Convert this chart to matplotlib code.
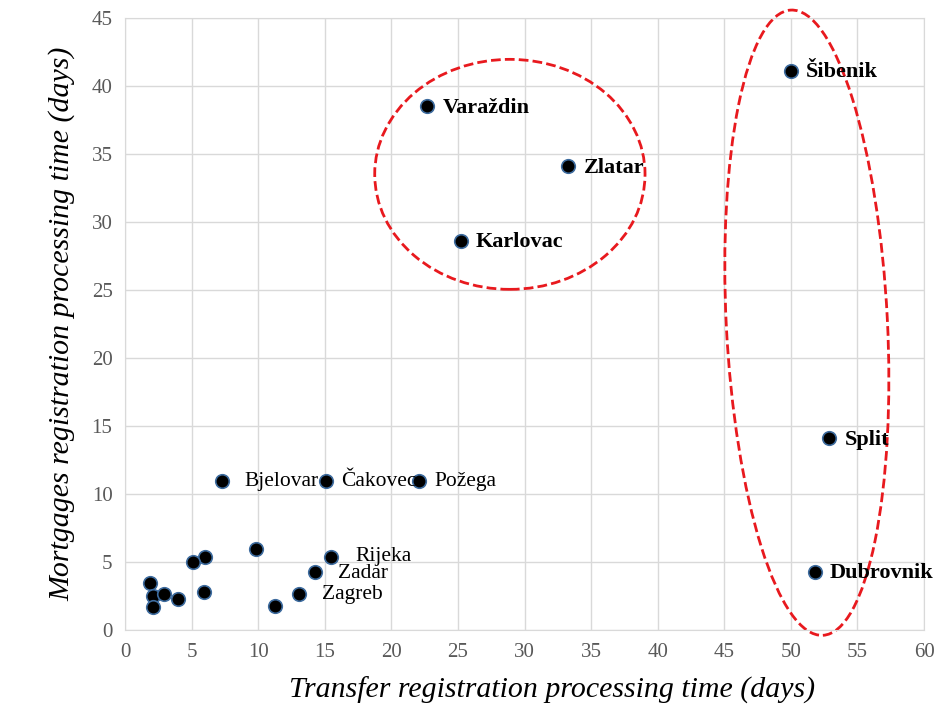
import numpy as np
import matplotlib
matplotlib.use("Agg")
import matplotlib.pyplot as plt
from matplotlib.patches import Ellipse

# data
transfer = [50.0, 52.9, 51.8, 22.7, 33.3, 25.2, 7.3, 15.1, 22.1, 15.5, 14.3, 13.1,
            9.8, 6.0, 5.1, 1.9, 2.1, 2.9, 2.1, 4.0, 5.9, 11.3]
mortgage = [41.1, 14.1, 4.3, 38.5, 34.1, 28.6, 11.0, 11.0, 11.0, 5.4, 4.3, 2.7,
            6.0, 5.4, 5.0, 3.5, 2.5, 2.7, 1.7, 2.3, 2.8, 1.8]
labels = ["Šibenik", "Split", "Dubrovnik", "Varaždin", "Zlatar", "Karlovac",
          "Bjelovar", "Čakovec", "Požega", "Rijeka", "Zadar", "Zagreb"]
bold_labels = ["Šibenik", "Split", "Dubrovnik", "Varaždin", "Zlatar", "Karlovac"]
# label offsets in points (dx, dy)
label_offsets = {"Bjelovar": (16, -1), "Rijeka": (17, 0), "Zadar": (16, -1), "Zagreb": (16, -1)}

plt.rcParams["font.family"] = ["Liberation Serif", "DejaVu Serif"]

fig = plt.figure(figsize=(9.4, 7.13), dpi=100)
ax = fig.add_axes([0.133, 0.116, 0.85, 0.859])

ax.scatter(transfer, mortgage, s=95, c="black", edgecolors="#3d6b9e",
           linewidths=1.2, zorder=3)

for i, name in enumerate(labels):
    dx, dy = label_offsets.get(name, (11, -1))
    bold = name in bold_labels
    ax.annotate(name, (transfer[i], mortgage[i]), xytext=(dx, dy),
                textcoords="offset points", va="center", ha="left",
                fontsize=16 if bold else 15.5,
                fontweight="bold" if bold else "normal",
                color="black", zorder=4)

# circled groups
ax.add_patch(Ellipse((28.9, 33.5), 20.3, 16.9, fill=False, ec="#e8191e",
                     lw=2, ls=(0, (3.5, 1.5)), zorder=2))
ax.add_patch(Ellipse((51.2, 22.6), 12.1, 46.0, angle=3, fill=False, ec="#e8191e",
                     lw=2, ls=(0, (3.5, 1.5)), zorder=2, clip_on=False))

ax.set_xlim(0, 60)
ax.set_ylim(0, 45)
ax.set_xticks(np.arange(0, 61, 5))
ax.set_yticks(np.arange(0, 46, 5))
ax.grid(True, color="#d9d9d9", lw=1)
ax.set_axisbelow(True)
for sp in ax.spines.values():
    sp.set_color("#d9d9d9")
ax.tick_params(length=0, labelsize=15, colors="#595959", pad=9)

ax.set_xlabel("Transfer registration processing time (days)", fontsize=21.5,
              style="italic", labelpad=6)
ax.xaxis.set_label_coords(0.534, -0.075)
ax.set_ylabel("Mortgages registration processing time (days)", fontsize=21.5,
              style="italic", labelpad=12)

fig.savefig("out.png", dpi=100)
